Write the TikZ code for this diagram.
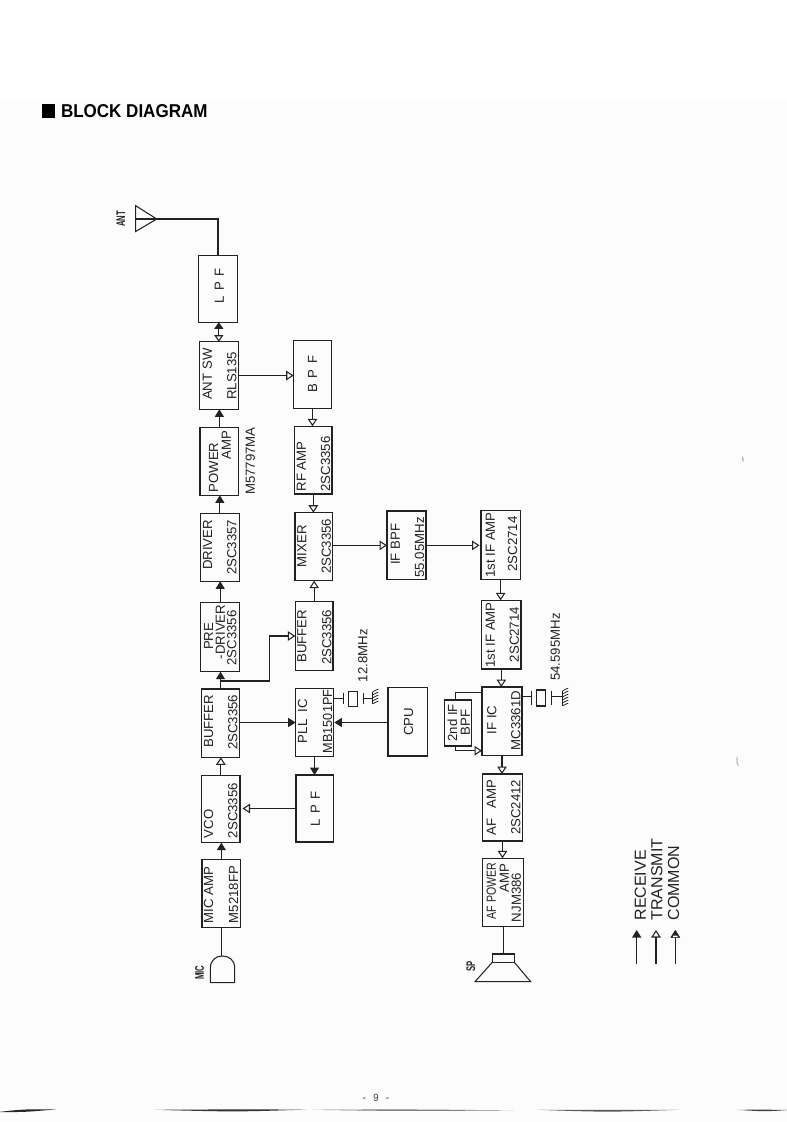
\documentclass[tikz,border=0pt]{standalone}
\usepackage{fontspec}
\usepackage{graphicx}
\setmainfont{Liberation Sans}
\newfontfamily\monof{Liberation Mono}
\usetikzlibrary{arrows.meta}
\definecolor{ink}{HTML}{222222}
\definecolor{paper}{HTML}{FCFCFC}
\tikzset{
  lw/.style={line width=1.05pt,draw=ink},
  blk/.style={lw,rectangle,inner sep=0pt,outer sep=0pt},
  recv/.style={lw,-{Triangle[length=7.5pt,width=9pt,fill=ink]}},
  xmit/.style={lw,-{Triangle[length=7.5pt,width=9.5pt,fill=paper]}},
  both/.style={lw,{Triangle[length=6.5pt,width=9pt,fill=paper]}-{Triangle[length=6.5pt,width=9pt,fill=ink]}},
  lab/.style={rotate=90,anchor=west,inner sep=0pt,text=ink,font=\fontsize{13.2}{13.2}\selectfont,text height=9.5pt,text depth=0pt},
  leg/.style={lab,font=\fontsize{16}{16}\selectfont,text height=11.5pt},
  tiny/.style={lab,font=\fontsize{12.5}{12.5}\bfseries\selectfont,text height=9pt},
}
% \bx{name}{x1}{x2}{y1}{y2}
\newcommand{\bx}[5]{%
  \pgfmathsetmacro{\cxv}{(#2+#3)/2}\pgfmathsetmacro{\cyv}{(#4+#5)/2}%
  \pgfmathsetmacro{\wv}{#3-#2}\pgfmathsetmacro{\hv}{#5-#4}%
  \node[blk,minimum width=\wv pt,minimum height=\hv pt] (#1) at (\cxv,\cyv) {};}
% \tl{name}{x}{y bottom}{text}
\newcommand{\tl}[4]{\node[lab] (#1) at (#2,#3) {#4};}
% \lens{x1}{y1}{xm}{ym}{x2}{y2}{half thickness}{shade}
\newcommand{\lens}[8]{\fill[black!#8] (#1,#2) .. controls (#3,{#4-#7}) .. (#5,#6) .. controls (#3,{#4+#7}) .. cycle;}
\begin{document}
\begin{tikzpicture}[x=1pt,y=-1pt]
\useasboundingbox (0,0) rectangle (787,1122);
\fill[paper] (0,101) rectangle (787,1122);

% title
\fill[black] (41.7,104.4) rectangle (54.8,117.7);
\node[inner sep=0pt,anchor=base west,font=\fontsize{18.6}{18.6}\bfseries\selectfont,text=black] (title) at (60.8,117.7) {\scalebox{0.915}[1]{BLOCK DIAGRAM}};

% blocks
\bx{lpfa}{198.3}{237.7}{255.7}{322.3}
\bx{antsw}{199.3}{238.3}{341.7}{409.3}
\bx{pwr}{200}{238.7}{427.3}{495.3}
\bx{drv}{200.5}{239.2}{513.2}{581.3}
\bx{pre}{200.7}{239.7}{602.7}{671.7}
\bx{bufa}{201.3}{239.7}{689}{757.3}
\bx{vco}{201.7}{240}{775.7}{842.7}
\bx{micamp}{202}{240.7}{859.7}{927.7}
\bx{bpf}{293.7}{331.3}{340.3}{408.3}
\bx{rfamp}{294.7}{332}{426.3}{494}
\bx{mixer}{295}{332.7}{512.7}{580.7}
\bx{bufb}{295.3}{333}{601.7}{670.3}
\bx{pll}{295.7}{333.3}{688.3}{756.7}
\bx{lpfb}{296}{333.7}{775}{842}
\bx{ifbpf}{387}{426}{511}{579.7}
\bx{cpu}{388}{427.3}{687.3}{756}
\bx{ifa}{481}{520.3}{510.3}{579.3}
\bx{ifb}{481.7}{521}{600.3}{669}
\bx{ific}{482}{522}{687}{755.7}
\bx{afamp}{482.3}{522.7}{774}{841}
\bx{afpwr}{482.3}{523.3}{858.3}{926.7}
\bx{secif}{444.3}{471.7}{700}{746}

% labels
\tl{tlpfa}{219}{303.3}{L\hspace{0.4em}P\hspace{0.4em}F}
\tl{tant}{207}{400}{ANT SW}
\tl{trls}{231.7}{400}{RLS135}
\tl{tpwa}{213.3}{492.7}{POWER}
\tl{tpwb}{226}{459.3}{AMP}
\tl{tm57}{250}{495}{M57797MA}
\tl{tdra}{207.3}{570}{DRIVER}
\tl{tdrb}{231.7}{575}{2SC3357}
\tl{tprea}{208.3}{650}{PRE}
\tl{tpreb}{220}{659.3}{-DRIVER}
\tl{tprec}{231.7}{665.7}{2SC3356}
\tl{tbufa}{208.3}{747.7}{BUFFER}
\tl{tbufb}{232.7}{750}{2SC3356}
\tl{tvcoa}{208.3}{838.3}{VCO}
\tl{tvcob}{232.7}{838.3}{2SC3356}
\tl{tmica}{208.3}{923.3}{MIC AMP}
\tl{tmicb}{233.3}{923.3}{M5218FP}
\tl{tbpf}{312.3}{392.3}{B\hspace{0.4em}P\hspace{0.4em}F}
\tl{trfa}{301}{491.7}{RF AMP}
\tl{trfb}{325.3}{491.7}{2SC3356}
\tl{tmxa}{301.7}{567.3}{MIXER}
\tl{tmxb}{326}{574}{2SC3356}
\tl{tbfa}{301.7}{662.7}{BUFFER}
\tl{tbfb}{326.7}{665}{2SC3356}
\tl{tplla}{302.3}{743.3}{PLL\hspace{0.3em} IC}
\tl{tpllb}{327.3}{753.3}{\scalebox{0.96}[1]{MB1501PF}}
\tl{tlpfb}{315}{826.7}{L\hspace{0.4em}P\hspace{0.4em}F}
\tl{tcr}{362.7}{682.3}{12.8MHz}
\tl{tcpu}{408.3}{736}{CPU}
\tl{tifba}{395}{565}{IF BPF}
\tl{tifbb}{419.3}{577.7}{55.05MHz}
\tl{tifaa}{490}{577.7}{1st IF AMP}
\tl{tifab}{512.3}{571.7}{2SC2714}
\tl{tifca}{490}{667.7}{1st IF AMP}
\tl{tifcb}{514}{662.3}{2SC2714}
\tl{tica}{491.7}{734.3}{IF IC}
\tl{ticb}{515.7}{750.7}{MC3361D}
\tl{tsa}{452.3}{741.7}{2nd IF}
\tl{tsb}{465}{735.7}{BPF}
\tl{tcr2}{555}{681}{54.595MHz}
\tl{tafa}{491}{835.7}{AF\hspace{0.5em} AMP}
\tl{tafb}{515.7}{835}{2SC2412}
\tl{tapa}{491}{919.3}{\scalebox{0.8}[1]{AF POWER}}
\tl{tapb}{504}{892.3}{AMP}
\tl{tapc}{516}{922.3}{NJM386}

% small device labels
\node[tiny] (lant) at (120.7,227) {\scalebox{0.62}[1]{ANT}};
\node[tiny] (lmic) at (199.3,980) {\scalebox{0.62}[1]{MIC}};
\node[tiny] (lsp) at (470.7,972) {\scalebox{0.62}[1]{SP}};

% signal connectors
\draw[recv] (micamp.north) -- (micamp.north |- vco.south);
\draw[xmit] (vco.north) -- (vco.north |- bufa.south);
\draw[recv] (bufa.north) -- (bufa.north |- pre.south);
\draw[recv] (pre.north) -- (pre.north |- drv.south);
\draw[recv] (drv.north) -- (drv.north |- pwr.south);
\draw[recv] (pwr.north) -- (pwr.north |- antsw.south);
\draw[both] (antsw.north) -- (antsw.north |- lpfa.south);
\draw[xmit] (antsw.east) -- (antsw.east -| bpf.west);
\draw[xmit] (bpf.south) -- (bpf.south |- rfamp.north);
\draw[xmit] (rfamp.south) -- (rfamp.south |- mixer.north);
\draw[xmit] (bufb.north) -- (bufb.north |- mixer.south);
\draw[xmit] (mixer.east |- ifbpf.west) -- (ifbpf.west);
\draw[xmit,shorten >=1.5pt] (ifbpf.east) -- (ifbpf.east -| ifa.west);
\draw[xmit] (ifa.south) -- (ifa.south |- ifb.north);
\draw[xmit] (ifb.south) -- (ifb.south |- ific.north);
\draw[xmit] (ific.south) -- (ific.south |- afamp.north);
\draw[xmit] (afamp.south) -- (afamp.south |- afpwr.north);
\draw[recv] (bufa.east |- pll.west) -- (pll.west);
\draw[recv,shorten >=1pt] (cpu.west |- pll.east) -- (pll.east);
\draw[recv] (pll.south) -- (pll.south |- lpfb.north);
\draw[xmit,shorten >=2.5pt] (lpfb.west) -- (lpfb.west -| vco.east);
\coordinate (tap) at (221.2,681);
\coordinate (tapx) at (269.3,681);
\draw[xmit] (tap) -- (tapx) |- (bufb.west);

% IF filter loop
\coordinate (lpa) at (455.3,692.3);
\coordinate (lpb) at (455.3,750.7);
\draw[lw] (ific.west |- lpa) -- (lpa) -- (lpa |- secif.north);
\draw[xmit] (lpb |- secif.south) -- (lpb) -- (ific.west |- lpb);

% antenna
\coordinate (antapex) at (156.7,219);
\coordinate (antbase) at (135.7,219);
\draw[lw,line join=miter] (135.7,205.7) -- (antapex) -- (135.7,231.5) -- cycle;
\draw[lw] (antbase) -- (antapex) -| (lpfa.north);

% microphone
\coordinate (mictop) at (221.4,956);
\draw[lw] (micamp.south) -- (micamp.south |- mictop);
\draw[lw] (210.4,982.7) -- (210.4,968) .. controls (210.4,960) and (216,956) .. (222.3,956) .. controls (229,956) and (234.7,960) .. (234.7,968) -- (234.7,982.7) -- cycle;

% speaker
\bx{spk}{492.3}{514.3}{954}{962.3}
\draw[lw] (spk.north |- afpwr.south) -- (spk.north);
\draw[lw] (spk.south west) -- (475,981.7) -- (530.7,981.7) -- (spk.south east);

% crystal 12.8 MHz
\bx{xa}{348.3}{357.7}{691.7}{706.7}
\coordinate (xap) at (343.3,698.5);
\coordinate (xaq) at (363.3,698.5);
\coordinate (xag) at (372.7,698.5);
\draw[lw] (pll.east |- xap) -- (xap);
\draw[lw] (343.3,692.7) -- (343.3,704.3);
\draw[lw] (363.3,692.7) -- (363.3,704.3);
\draw[lw] (xaq) -- (xag);
\draw[lw] (372.7,691.7) -- (372.7,704.3);
\foreach \d in {0,3,6,9,12}{\draw[line width=.8pt,draw=ink] (372.7,691.7+\d) -- +(5.5,-2.6);}

% crystal 54.595 MHz
\bx{xb}{536.7}{545.7}{690}{706}
\coordinate (xbp) at (531.7,696.7);
\coordinate (xbq) at (551.3,696.7);
\coordinate (xbg) at (562.7,696.7);
\draw[lw] (ific.east |- xbp) -- (xbp);
\draw[lw] (531.7,690.7) -- (531.7,705);
\draw[lw] (551.3,690.7) -- (551.3,705);
\draw[lw] (xbq) -- (xbg);
\draw[lw] (562.7,690.7) -- (562.7,706);
\foreach \d in {0,3,6,9,12,15}{\draw[line width=.8pt,draw=ink] (562.7,690.7+\d) -- +(5.5,-2.6);}

% legend
\coordinate (lra) at (636.7,964); \coordinate (lrb) at (636.7,930);
\coordinate (lta) at (656,964);   \coordinate (ltb) at (656,930);
\coordinate (lca) at (675.3,964); \coordinate (lcb) at (675.3,930);
\draw[recv] (lra) -- (lrb);
\draw[xmit] (lta) -- (ltb);
\draw[xmit] (lca) -- (lcb);
\fill[ink] (675.3,930) -- (679.7,937.5) -- (670.9,937.5) -- cycle;
\fill[paper] (673.4,935.6) -- (677.2,935.6) -- (677.9,937.2) -- (672.7,937.2) -- cycle;
\node[leg] (lr) at (640,920.7) {RECEIVE};
\node[leg] (lt) at (656.7,920.7) {TRANSMIT};
\node[leg] (lc) at (673.3,920.7) {COMMON};

% page number
\node[inner sep=0pt,text=black!75,font=\fontsize{11}{11}\monof] (page) at (376,1098) {\scalebox{0.88}[1]{- 9 -}};

% page-edge shadow and specks of the scan
\lens{-2}{1112}{25}{1110.6}{56}{1109.4}{1.5}{85}
\lens{155}{1109.8}{235}{1110.6}{306}{1109.6}{1.3}{80}
\lens{313}{1109.8}{400}{1110.2}{514}{1110.4}{1}{50}
\lens{537}{1109.8}{607}{1111}{679}{1109.8}{1.2}{65}
\lens{737}{1109.8}{765}{1110.6}{788}{1110}{1}{75}
\draw[black!45,line width=.9pt] (742.7,456.7) -- (743,461.7);
\draw[black!35,line width=.9pt] (737,756.7) -- (737.2,764) -- (738.5,765.5);
\end{tikzpicture}
\end{document}
